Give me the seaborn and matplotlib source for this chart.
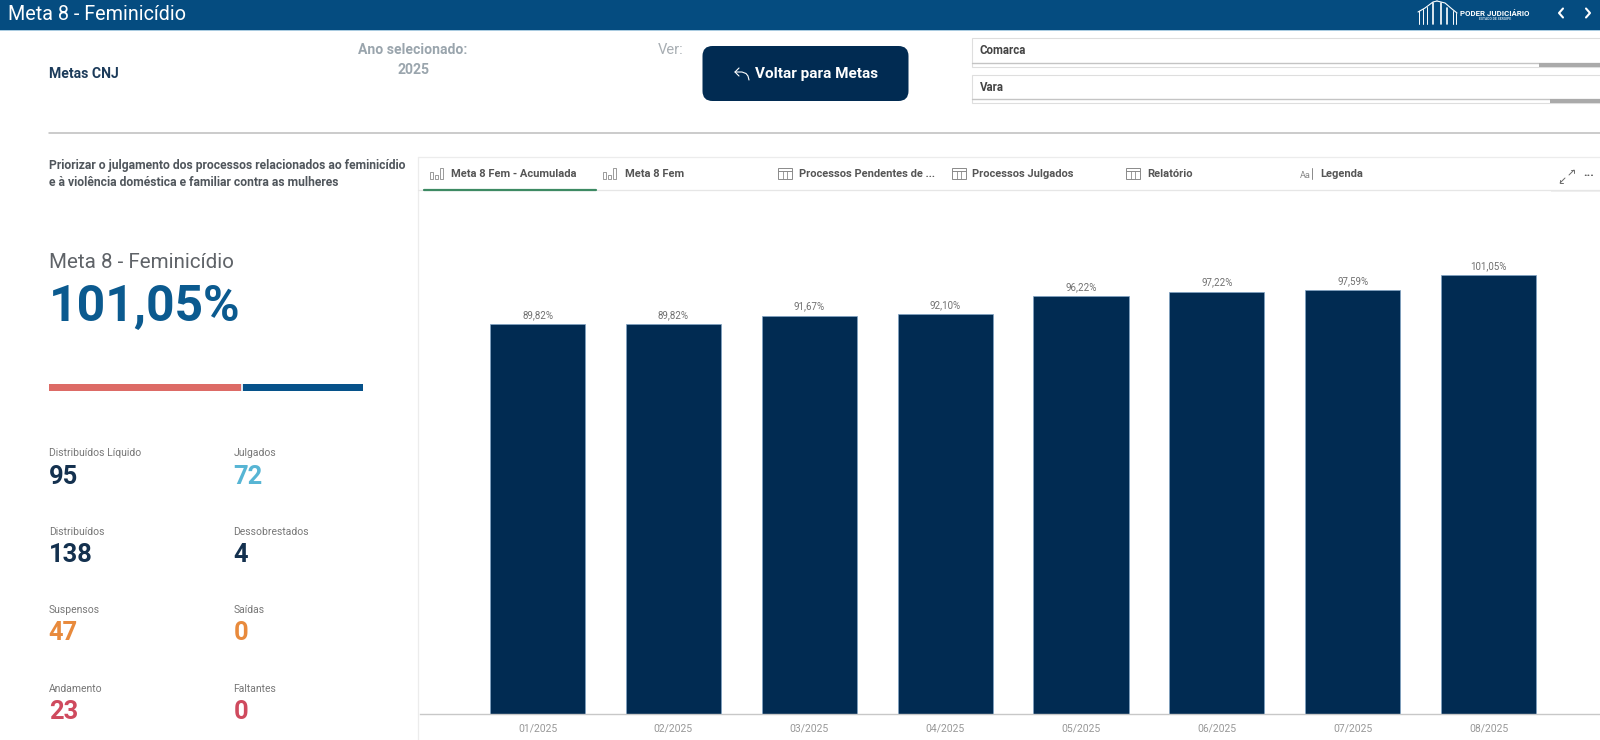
import matplotlib
matplotlib.use("Agg")
import matplotlib.pyplot as plt
from matplotlib.patches import FancyBboxPatch, Rectangle
import numpy as np
import pandas as pd
import seaborn as sns

# Chart data
meses = ["01/2025", "02/2025", "03/2025", "04/2025", "05/2025", "06/2025", "07/2025", "08/2025"]
percentuais = [89.82, 89.82, 91.67, 92.10, 96.22, 97.22, 97.59, 101.05]

# KPI data
kpi_nomes = ["Distribuídos Líquido", "Julgados", "Distribuídos", "Dessobrestados",
             "Suspensos", "Saídas", "Andamento", "Faltantes"]
kpi_valores = [95, 72, 138, 4, 47, 0, 23, 0]
kpi_cores = ["#14314f", "#57b5d4", "#14314f", "#14314f", "#e88a3c", "#e88a3c", "#cf4a5e", "#cf4a5e"]
abas = ["Meta 8 Fem - Acumulada", "Meta 8 Fem", "Processos Pendentes de ...",
        "Processos Julgados", "Relatório", "Legenda"]

W, H = 1600, 740
AZUL_ESCURO = "#012b52"

sns.set_theme(style="white")
plt.rcParams["font.family"] = ["Roboto", "DejaVu Sans"]

fig = plt.figure(figsize=(16, 7.4), dpi=100, facecolor="white")

# Overlay in pixel coordinates for the dashboard chrome
ui = fig.add_axes([0, 0, 1, 1], zorder=1)
ui.set_xlim(0, W)
ui.set_ylim(H, 0)
ui.axis("off")
ui.patch.set_alpha(0)


def txt(x, y, s, size, color="#555555", weight="normal", ha="left"):
    ui.text(x, y, s, fontsize=size, color=color, fontweight=weight, ha=ha, va="center", zorder=7)


def box(x0, y0, x1, y1, color, z=2, edge="none"):
    ui.add_patch(Rectangle((x0, y0), x1 - x0, y1 - y0, facecolor=color, edgecolor=edge, lw=0.8, zorder=z))


def linha(xs, ys, color="#9a9a9a", lw=0.8, z=5):
    ui.plot(xs, ys, color=color, lw=lw, zorder=z, solid_capstyle="round")


# Header
box(0, 0, W, 30, "#054c80")
box(0, 30, W, 31, "#a9cbe0")
txt(8, 14.5, "Meta 8 - Feminicídio", 14.2, "white")
txt(1460, 13, "PODER JUDICIÁRIO", 5.7, "white", "bold")
txt(1495, 19.5, "ESTADO DE SERGIPE", 2.4, "#c6d8e6", "bold", ha="center")
# logo columns
for x, top in zip([1419, 1423, 1427, 1433, 1441, 1447, 1453, 1456], [11, 9, 7, 3, 3, 8, 11, 13]):
    linha([x, x], [top, 24], "white", 1.2 if x in (1433, 1441, 1447) else 0.7)
linha([1418, 1425, 1433, 1437], [12, 8, 2, 1], "white", 0.8)
linha([1437, 1445, 1452, 1457], [1, 3, 9, 13], "white", 0.8)
# next / previous arrows
linha([1563, 1559, 1563], [8.5, 13, 17.5], "white", 1.5)
linha([1586, 1590, 1586], [8.5, 13, 17.5], "white", 1.5)

# Filter row
txt(48.7, 73.5, "Metas CNJ", 10.1, "#1c3b5a", "bold")
txt(413, 50, "Ano selecionado:", 10.1, "#9aa5ad", "bold", ha="center")
txt(413, 69.5, "2025", 10.1, "#9aa5ad", "bold", ha="center")
txt(671, 50, "Ver:", 10.6, "#a8aeb3", ha="center")
ui.add_patch(FancyBboxPatch((702.5, 46), 206, 55, boxstyle="round,pad=0,rounding_size=10", facecolor=AZUL_ESCURO,
                            edgecolor="none", zorder=2))
txt(755, 74, "Voltar para Metas", 11, "white", "bold")
linha([739, 735, 739], [68, 72, 76], "white", 0.8)
linha([735, 742, 746, 748, 749], [72, 72, 73.5, 76, 80], "white", 0.8)

for y0, y1, y2, xs, nome in [(38, 62.5, 67, 1539, "Comarca"), (75, 99.3, 103, 1550, "Vara")]:
    box(972, y0, 1601, y2, "white", 2, "#dedede")
    linha([972, 1600], [y1, y1], "#c4c4c4", 1.0)
    box(xs, y1, 1601, y2, "#aaaaaa", 6)
    txt(979.6, (y0 + y1) / 2 + 0.5, nome, 8.3, "#444444", "bold")

linha([48.7, W], [132.5, 132.5], "#bdbdbd", 1.1)

# Left panel
txt(48.7, 165.7, "Priorizar o julgamento dos processos relacionados ao feminicídio", 8.75, "#50565c", "bold")
txt(48.7, 183, "e à violência doméstica e familiar contra as mulheres", 8.75, "#50565c", "bold")
txt(48.7, 263, "Meta 8 - Feminicídio", 14.8, "#5f6368")
txt(49, 308, "101,05%", 35.8, "#0b5a8f", "bold")
box(48.7, 384.3, 240.7, 391.3, "#dd6b66")
box(240.7, 384.3, 243, 391.3, "#dfe7ee")
box(243, 384.3, 362.7, 391.3, "#06528a")

rotulo_y = [453, 532, 610, 689]
valor_y = [476.5, 555, 633, 712]
for i, (nome, valor, cor) in enumerate(zip(kpi_nomes, kpi_valores, kpi_cores)):
    x = 48.7 if i % 2 == 0 else 233.5
    txt(x, rotulo_y[i // 2], nome, 7.5, "#777777")
    txt(x, valor_y[i // 2], str(valor), 18.4, cor, "bold")

# Tab strip
linha([418, W], [156.7, 156.7], "#ececec", 0.9)
linha([418, 418], [156.7, H], "#ececec", 0.9)
linha([418, W], [190.3, 190.3], "#e6e6e6", 0.9)
linha([423.5, 596], [189.5, 189.5], "#3d8a63", 1.6, 6)


def icone_barras(x):
    for dx, h in zip([0, 5, 10], [7, 4, 11]):
        ui.add_patch(Rectangle((x + dx, 179 - h), 3.2, h, facecolor="none", edgecolor="#8a8a8a", lw=0.6, zorder=5))


def icone_tabela(x):
    ui.add_patch(Rectangle((x, 168), 14, 11, facecolor="none", edgecolor="#8a8a8a", lw=0.7, zorder=5))
    linha([x, x + 14], [171, 171], "#8a8a8a", 0.7)
    linha([x + 4.7, x + 4.7], [171, 179], "#8a8a8a", 0.6)
    linha([x + 9.4, x + 9.4], [171, 179], "#8a8a8a", 0.6)


for x_txt, nome in zip([451, 625, 799, 972.5, 1147, 1320], abas):
    txt(x_txt, 174, nome, 8.05, "#555555", "bold")
icone_barras(430)
icone_barras(603)
icone_tabela(778)
icone_tabela(952)
icone_tabela(1126)
txt(1300, 175, "Aa", 6.6, "#8a8a8a")
linha([1312, 1312], [168, 179], "#8a8a8a", 0.7)

# focus menu
box(1551, 164, 1600.5, 192, "#f0f0f0", 3)
box(1550, 163, 1600.5, 190.5, "white", 4)
linha([1560, 1565], [183, 178], "#6a6a6a", 0.7)
linha([1569, 1574], [175, 170], "#6a6a6a", 0.7)
linha([1571, 1574, 1574], [170, 170, 173], "#6a6a6a", 0.7)
linha([1560, 1560, 1563], [180, 183, 183], "#6a6a6a", 0.7)
txt(1589, 172.5, "...", 9, "#555555", "bold", ha="center")

# Bar chart
x_esq, x_dir = 420, 1600
y_base, y_topo = 713.7, 192
ax = fig.add_axes([x_esq / W, 1 - y_base / H, (x_dir - x_esq) / W, (y_base - y_topo) / H], zorder=2)
ax.patch.set_alpha(0)

df = pd.DataFrame({"mes": meses, "pct": percentuais})
sns.barplot(data=df, x="mes", y="pct", color=AZUL_ESCURO, saturation=1, width=0.7, ax=ax,
            edgecolor="#7fa3c4", linewidth=0.5)

ax.set_xlim(-0.865, 7.82)
ax.set_ylim(0, (y_base - y_topo) / 4.34)
ax.set_xlabel("")
ax.set_ylabel("")
ax.set_yticks([])
ax.tick_params(axis="x", length=0, pad=7, labelsize=7.5, labelcolor="#989898")
sns.despine(ax=ax, left=True)
ax.spines["bottom"].set_color("#c8c8c8")
ax.spines["bottom"].set_linewidth(1.0)

rotulos = [f"{v:.2f}%".replace(".", ",") for v in percentuais]
ax.bar_label(ax.containers[0], labels=rotulos, fontsize=7, color="#707070", padding=3)

fig.savefig("out.png", dpi=100)
